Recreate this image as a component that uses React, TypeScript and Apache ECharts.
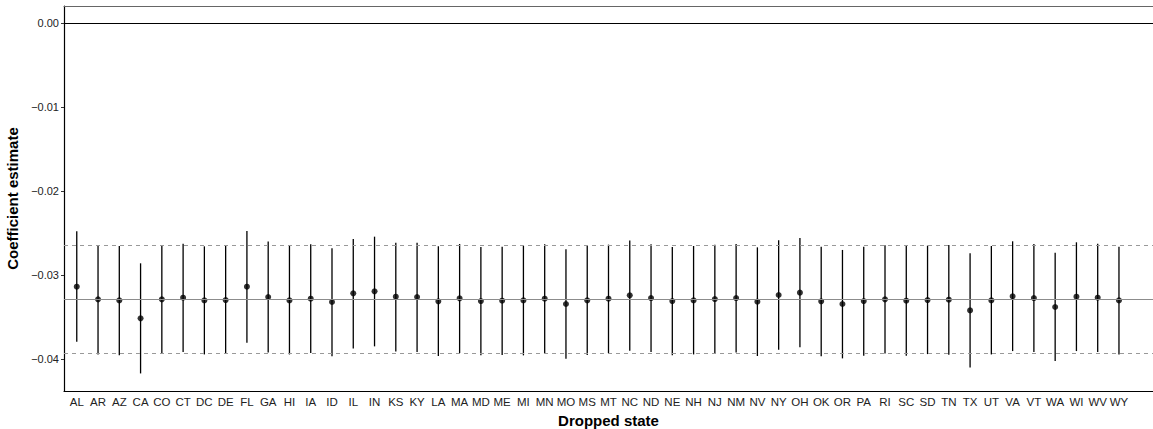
import React, { useEffect, useRef } from "react";
import * as echarts from "echarts";

const states = ["AL","AR","AZ","CA","CO","CT","DC","DE","FL","GA","HI","IA","ID","IL","IN","KS","KY","LA","MA","MD","ME","MI","MN","MO","MS","MT","NC","ND","NE","NH","NJ","NM","NV","NY","OH","OK","OR","PA","RI","SC","SD","TN","TX","UT","VA","VT","WA","WI","WV","WY"];

const estimates = [-0.03139,-0.03290,-0.03302,-0.03516,-0.03290,-0.03270,-0.03302,-0.03298,-0.03139,-0.03262,-0.03302,-0.03282,-0.03321,-0.03218,-0.03194,-0.03258,-0.03262,-0.03313,-0.03278,-0.03310,-0.03306,-0.03302,-0.03282,-0.03345,-0.03302,-0.03282,-0.03242,-0.03274,-0.03310,-0.03302,-0.03286,-0.03274,-0.03317,-0.03238,-0.03210,-0.03313,-0.03345,-0.03310,-0.03290,-0.03306,-0.03298,-0.03294,-0.03421,-0.03302,-0.03254,-0.03274,-0.03381,-0.03258,-0.03270,-0.03302];

const upper = [-0.02480,-0.02643,-0.02655,-0.02861,-0.02643,-0.02627,-0.02659,-0.02651,-0.02476,-0.02603,-0.02655,-0.02635,-0.02683,-0.02571,-0.02544,-0.02615,-0.02615,-0.02659,-0.02631,-0.02667,-0.02663,-0.02651,-0.02635,-0.02694,-0.02655,-0.02639,-0.02591,-0.02635,-0.02667,-0.02655,-0.02639,-0.02631,-0.02671,-0.02587,-0.02560,-0.02663,-0.02702,-0.02663,-0.02647,-0.02651,-0.02651,-0.02643,-0.02742,-0.02655,-0.02599,-0.02631,-0.02734,-0.02611,-0.02627,-0.02663];

const lower = [-0.03794,-0.03945,-0.03956,-0.04171,-0.03937,-0.03917,-0.03945,-0.03937,-0.03806,-0.03921,-0.03945,-0.03929,-0.03968,-0.03873,-0.03849,-0.03909,-0.03917,-0.03964,-0.03929,-0.03956,-0.03952,-0.03956,-0.03933,-0.03996,-0.03952,-0.03929,-0.03901,-0.03917,-0.03956,-0.03945,-0.03933,-0.03921,-0.03964,-0.03889,-0.03861,-0.03968,-0.03992,-0.03960,-0.03933,-0.03960,-0.03941,-0.03949,-0.04099,-0.03945,-0.03905,-0.03917,-0.04024,-0.03905,-0.03917,-0.03945];

const yTicks = [0, -0.01, -0.02, -0.03, -0.04];
const fullEstimate = -0.0329;
const fullUpper = -0.02643;
const fullLower = -0.03933;

const FONT = "'Liberation Sans', Arial, Helvetica, sans-serif";

export default function App() {
  const ref = useRef<HTMLDivElement>(null);
  useEffect(() => {
    if (!ref.current) return;
    const chart = echarts.init(ref.current, undefined, { renderer: "svg" });
    const idx = states.map((_, i) => i);
    chart.setOption({
      animation: false,
      backgroundColor: "#fff",
      textStyle: { fontFamily: FONT },
      grid: { left: 64, right: 0, top: 6, bottom: 38, containLabel: false, outerBoundsMode: "none" },
      xAxis: [
        {
          type: "value",
          min: -0.6,
          max: 50.6,
          name: "Dropped state",
          nameLocation: "middle",
          nameGap: 17,
          nameTextStyle: { fontFamily: FONT, fontSize: 15, fontWeight: "bold", color: "#000" },
          axisLine: { show: true, onZero: false, lineStyle: { color: "#000", width: 1.2 } },
          axisTick: { show: false },
          splitLine: { show: false },
          axisLabel: {
            customValues: idx,
            formatter: (v: number) => states[Math.round(v)] ?? "",
            fontFamily: FONT,
            fontSize: 11.5,
            color: "#222",
            margin: 5,
          },
        },
        {
          type: "value",
          position: "top",
          min: -0.6,
          max: 50.6,
          axisLine: { show: true, onZero: false, lineStyle: { color: "#666", width: 1 } },
          axisTick: { show: false },
          axisLabel: { show: false },
          splitLine: { show: false },
        },
      ],
      yAxis: {
        type: "value",
        min: -0.0438,
        max: 0.002,
        name: "Coefficient estimate",
        nameLocation: "middle",
        nameGap: 33,
        nameTextStyle: { fontFamily: FONT, fontSize: 15, fontWeight: "bold", color: "#000" },
        axisLine: { show: true, onZero: false, lineStyle: { color: "#000", width: 1.2 } },
        axisTick: { show: true, customValues: yTicks, length: 3, lineStyle: { color: "#333" } },
        splitLine: { show: false },
        axisLabel: {
          customValues: yTicks,
          formatter: (v: number) => (v === 0 ? "0.00" : "\u2212" + Math.abs(v).toFixed(2)),
          fontFamily: FONT,
          fontSize: 11,
          color: "#222",
          margin: 5,
        },
      },
      series: [
        {
          type: "custom",
          xAxisIndex: 0,
          encode: { x: 0, y: [1, 2] },
          data: idx.map((i) => [i, lower[i], upper[i]]),
          renderItem: (params: any, api: any) => {
            const x = api.value(0);
            const p1 = api.coord([x, api.value(1)]);
            const p2 = api.coord([x, api.value(2)]);
            return {
              type: "line",
              shape: { x1: p1[0], y1: p1[1], x2: p2[0], y2: p2[1] },
              style: { stroke: "#000", lineWidth: 1.3 },
            };
          },
          z: 3,
        },
        {
          type: "scatter",
          xAxisIndex: 0,
          data: idx.map((i) => [i, estimates[i]]),
          symbol: "circle",
          symbolSize: 6,
          itemStyle: { color: "#000" },
          z: 4,
          markLine: {
            silent: true,
            symbol: "none",
            precision: 6,
            label: { show: false },
            data: [
              { yAxis: 0, lineStyle: { color: "#000", width: 1.2, type: "solid" } },
              { yAxis: fullEstimate, lineStyle: { color: "#8c8c8c", width: 1, type: "solid" } },
              { yAxis: fullUpper, lineStyle: { color: "#999", width: 1, type: [4, 4] } },
              { yAxis: fullLower, lineStyle: { color: "#999", width: 1, type: [4, 4] } },
            ],
          },
        },
      ],
    });
    return () => chart.dispose();
  }, []);
  return (
    <div
      ref={ref}
      style={{ position: "fixed", left: 0, top: 0, width: 1153, height: 429 }}
    />
  );
}
